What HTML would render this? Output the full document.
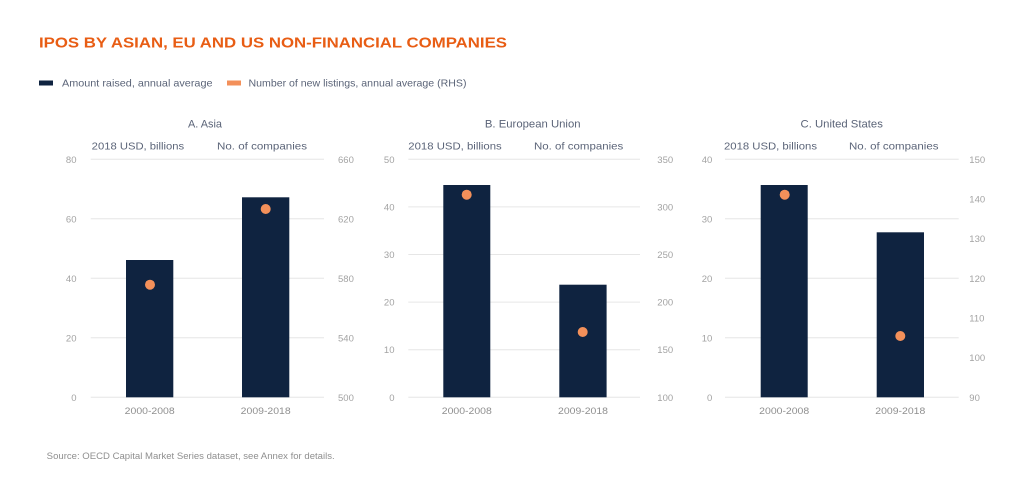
<!DOCTYPE html>
<html><head><meta charset="utf-8"><style>
html,body{margin:0;padding:0;background:#fff;}
svg{display:block;}
text{font-family:"Liberation Sans",sans-serif;}
.tk{font-size:9.5px;fill:#a3a3a3;}
.sub{font-size:10.5px;fill:#5b6478;}
.pt{font-size:11px;fill:#5b6478;}
.xl{font-size:9.5px;fill:#8f8f8f;}
.g{stroke:#e6e6e6;stroke-width:1;}
.bar{fill:#0f2340;}
.dot{fill:#f3905a;}
</style></head><body>
<svg width="1024" height="503" viewBox="0 0 1024 503" xmlns="http://www.w3.org/2000/svg">
<rect width="1024" height="503" fill="#fff"/>
<text x="39" y="47.5" font-size="15" font-weight="bold" fill="#e85d14" textLength="468" lengthAdjust="spacingAndGlyphs">IPOS BY ASIAN, EU AND US NON-FINANCIAL COMPANIES</text>
<rect x="39" y="80.5" width="14" height="5" fill="#0f2340"/>
<text x="62" y="86.5" font-size="10.5" fill="#5b6478" textLength="150.5" lengthAdjust="spacingAndGlyphs">Amount  raised, annual average</text>
<rect x="227" y="80.5" width="14" height="5" fill="#f3905a"/>
<text x="248.5" y="86.5" font-size="10.5" fill="#5b6478" textLength="218" lengthAdjust="spacingAndGlyphs">Number of new listings, annual average (RHS)</text>

<!-- Panel A -->
<text class="pt" x="205" y="127.3" text-anchor="middle" textLength="34" lengthAdjust="spacingAndGlyphs">A. Asia</text>
<text class="sub" x="91.7" y="149.3" textLength="92.5" lengthAdjust="spacingAndGlyphs">2018 USD, billions</text>
<text class="sub" x="217" y="149.3" textLength="90" lengthAdjust="spacingAndGlyphs">No. of companies</text>
<line class="g" x1="90.7" x2="324" y1="159.3" y2="159.3"/>
<line class="g" x1="90.7" x2="324" y1="218.8" y2="218.8"/>
<line class="g" x1="90.7" x2="324" y1="278.3" y2="278.3"/>
<line class="g" x1="90.7" x2="324" y1="337.8" y2="337.8"/>
<line class="g" x1="90.7" x2="324" y1="397.3" y2="397.3"/>
<g class="tk" text-anchor="end">
<text x="76.5" y="162.8">80</text><text x="76.5" y="222.3">60</text><text x="76.5" y="281.8">40</text><text x="76.5" y="341.3">20</text><text x="76.5" y="400.8">0</text>
</g>
<g class="tk">
<text x="338" y="162.8">660</text><text x="338" y="222.3">620</text><text x="338" y="281.8">580</text><text x="338" y="341.3">540</text><text x="338" y="400.8">500</text>
</g>
<rect class="bar" x="126" y="260" width="47.3" height="137.3"/>
<rect class="bar" x="242" y="197.3" width="47.3" height="200"/>
<circle class="dot" cx="150" cy="284.7" r="5"/>
<circle class="dot" cx="265.7" cy="209" r="5"/>
<text class="xl" x="149.7" y="414" text-anchor="middle" textLength="50" lengthAdjust="spacingAndGlyphs">2000-2008</text>
<text class="xl" x="265.7" y="414" text-anchor="middle" textLength="50" lengthAdjust="spacingAndGlyphs">2009-2018</text>

<!-- Panel B -->
<text class="pt" x="532.7" y="127.3" text-anchor="middle" textLength="95.7" lengthAdjust="spacingAndGlyphs">B. European Union</text>
<text class="sub" x="408.3" y="149.3" textLength="93.4" lengthAdjust="spacingAndGlyphs">2018 USD, billions</text>
<text class="sub" x="534" y="149.3" textLength="89.3" lengthAdjust="spacingAndGlyphs">No. of companies</text>
<line class="g" x1="408.3" x2="640" y1="159.3" y2="159.3"/>
<line class="g" x1="408.3" x2="640" y1="206.9" y2="206.9"/>
<line class="g" x1="408.3" x2="640" y1="254.5" y2="254.5"/>
<line class="g" x1="408.3" x2="640" y1="302.1" y2="302.1"/>
<line class="g" x1="408.3" x2="640" y1="349.7" y2="349.7"/>
<line class="g" x1="408.3" x2="640" y1="397.3" y2="397.3"/>
<g class="tk" text-anchor="end">
<text x="394.5" y="162.8">50</text><text x="394.5" y="210.4">40</text><text x="394.5" y="258">30</text><text x="394.5" y="305.6">20</text><text x="394.5" y="353.2">10</text><text x="394.5" y="400.8">0</text>
</g>
<g class="tk">
<text x="657.3" y="162.8">350</text><text x="657.3" y="210.4">300</text><text x="657.3" y="258">250</text><text x="657.3" y="305.6">200</text><text x="657.3" y="353.2">150</text><text x="657.3" y="400.8">100</text>
</g>
<rect class="bar" x="443.3" y="185" width="47" height="212.3"/>
<rect class="bar" x="559.3" y="284.7" width="47.3" height="112.6"/>
<circle class="dot" cx="466.7" cy="194.7" r="5"/>
<circle class="dot" cx="582.7" cy="332" r="5"/>
<text class="xl" x="466.8" y="414" text-anchor="middle" textLength="50" lengthAdjust="spacingAndGlyphs">2000-2008</text>
<text class="xl" x="583" y="414" text-anchor="middle" textLength="50" lengthAdjust="spacingAndGlyphs">2009-2018</text>

<!-- Panel C -->
<text class="pt" x="841.7" y="127.3" text-anchor="middle" textLength="82.3" lengthAdjust="spacingAndGlyphs">C. United States</text>
<text class="sub" x="724" y="149.3" textLength="93" lengthAdjust="spacingAndGlyphs">2018 USD, billions</text>
<text class="sub" x="849" y="149.3" textLength="89.5" lengthAdjust="spacingAndGlyphs">No. of companies</text>
<line class="g" x1="725" x2="958.7" y1="159.3" y2="159.3"/>
<line class="g" x1="725" x2="958.7" y1="218.8" y2="218.8"/>
<line class="g" x1="725" x2="958.7" y1="278.3" y2="278.3"/>
<line class="g" x1="725" x2="958.7" y1="337.8" y2="337.8"/>
<line class="g" x1="725" x2="958.7" y1="397.3" y2="397.3"/>
<g class="tk" text-anchor="end">
<text x="712.3" y="162.8">40</text><text x="712.3" y="222.3">30</text><text x="712.3" y="281.8">20</text><text x="712.3" y="341.3">10</text><text x="712.3" y="400.8">0</text>
</g>
<g class="tk">
<text x="969.3" y="162.8">150</text><text x="969.3" y="202.5">140</text><text x="969.3" y="242.1">130</text><text x="969.3" y="281.8">120</text><text x="969.3" y="321.5">110</text><text x="969.3" y="361.1">100</text><text x="969.3" y="400.8">90</text>
</g>
<rect class="bar" x="760.7" y="185" width="47" height="212.3"/>
<rect class="bar" x="876.7" y="232.3" width="47.3" height="165"/>
<circle class="dot" cx="784.7" cy="194.7" r="5"/>
<circle class="dot" cx="900.3" cy="336" r="5"/>
<text class="xl" x="784.2" y="414" text-anchor="middle" textLength="50" lengthAdjust="spacingAndGlyphs">2000-2008</text>
<text class="xl" x="900.3" y="414" text-anchor="middle" textLength="50" lengthAdjust="spacingAndGlyphs">2009-2018</text>

<text x="46.7" y="459" font-size="9" fill="#8f8f8f" textLength="288" lengthAdjust="spacingAndGlyphs">Source: OECD Capital Market Series dataset, see Annex for details.</text>
</svg>
</body></html>
